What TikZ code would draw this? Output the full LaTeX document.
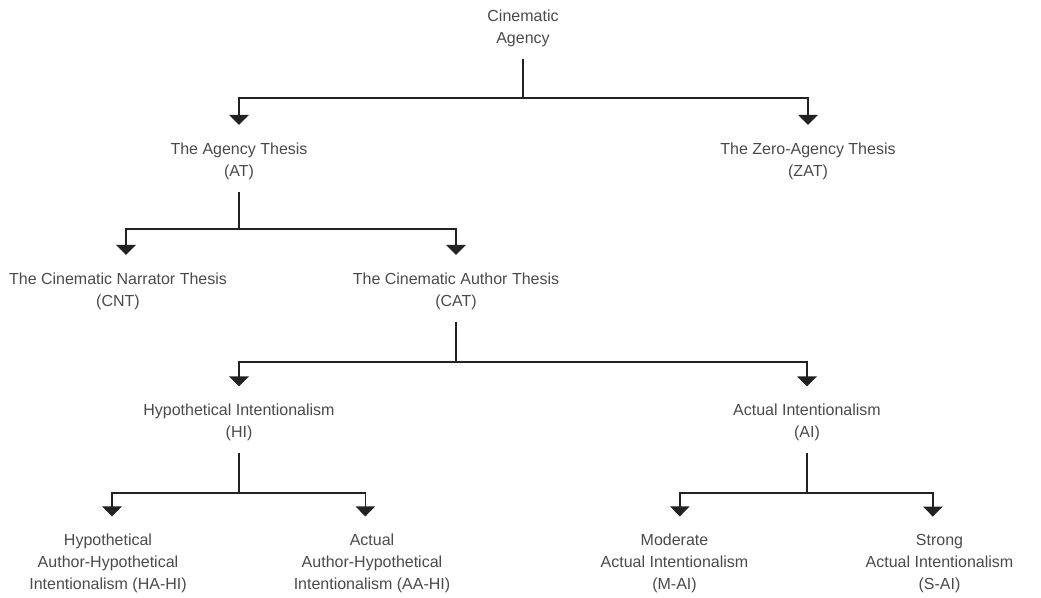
\documentclass[tikz,border=0pt]{standalone}
\usepackage{fontspec}
\setmainfont{Liberation Sans}
\usepackage{tikz}
\usetikzlibrary{calc,positioning,arrows.meta}
\definecolor{txtgray}{HTML}{4A4A4A}
\definecolor{linegray}{HTML}{222222}

\begin{document}
\begin{tikzpicture}[x=0.75pt, y=-0.75pt,
 every node/.style={align=center, inner sep=0pt, text=txtgray, font=\fontsize{12}{16.5}\selectfont},
 stem/.style={draw=linegray, line width=1pt, shorten <=9pt},
 branch/.style={draw=linegray, line width=1pt, shorten >=13pt, -{Triangle[width=14.5pt,length=7.5pt]}}]
\useasboundingbox (0,0) rectangle (1041,598);
\node (ca) at (523,28) {Cinematic\\Agency};
\node (at) at (239,161) {The Agency Thesis\\(AT)};
\node (zat) at (808,161) {The Zero-Agency Thesis\\(ZAT)};
\node (cnt) at (118,291) {The Cinematic Narrator Thesis\\(CNT)};
\node (cat) at (456,291) {The Cinematic Author Thesis\\(CAT)};
\node (hi) at (239,422.5) {Hypothetical Intentionalism\\(HI)};
\node (ai) at (807,422.5) {Actual Intentionalism\\(AI)};
\node (hahi) at (108,563.5) {Hypothetical\\Author-Hypothetical\\Intentionalism (HA-HI)};
\node (aahi) at (372,563.5) {Actual\\Author-Hypothetical\\Intentionalism (AA-HI)};
\node (mai) at (674.5,563.5) {Moderate\\Actual Intentionalism\\(M-AI)};
\node (sai) at (939.5,563.5) {Strong\\Actual Intentionalism\\(S-AI)};
% junctions
\coordinate (j1) at (523,98);
\coordinate (j2) at (239,229);
\coordinate (j3) at (456,362);
\coordinate (j4) at (239,493);
\coordinate (j5) at (807,493);
\foreach \p/\j in {ca/j1,at/j2,cat/j3,hi/j4,ai/j5}{\draw[stem] (\p) -- (\j);}
\foreach \j/\c/\dx in {j1/at/0,j1/zat/0,j2/cnt/6,j2/cat/0,j3/hi/0,j3/ai/0,j4/hahi/3,j4/aahi/-5,j5/mai/4,j5/sai/-5}
 {\draw[branch] (\j) -| ([xshift=\dx pt]\c.north);}
\end{tikzpicture}
\end{document}
